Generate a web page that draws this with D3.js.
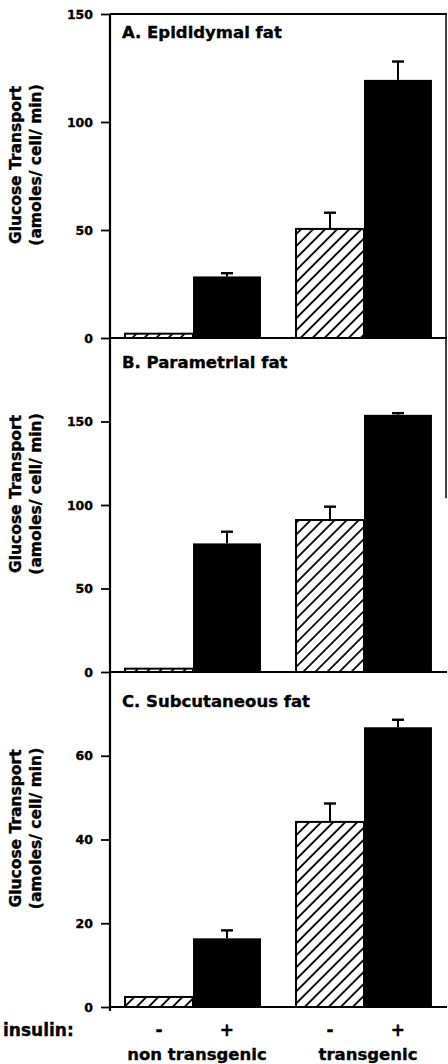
<!DOCTYPE html>
<html>
<head>
<meta charset="utf-8">
<script src="https://cdn.jsdelivr.net/npm/d3@7"></script>
<style>
  html, body { margin: 0; padding: 0; background: #fff; }
  svg { display: block; }
  text { font-family: "DejaVu Sans", sans-serif; font-weight: bold; fill: #000; stroke: #000; stroke-width: 0.35px; }
</style>
</head>
<body>
<svg id="chart" width="448" height="1064"></svg>
<script>
// ---- data ----
const groups = ["non transgenic", "transgenic"];
const insulin = ["-", "+"];
const panelTitles = ["A. Epididymal fat", "B. Parametrial fat", "C. Subcutaneous fat"];
const yMax = [150, 200, 80];
const yTicksA = [0, 50, 100, 150];
const yTicksB = [0, 50, 100, 150];
const yTicksC = [0, 20, 40, 60];
// order: non transgenic -, non transgenic +, transgenic -, transgenic +
const meanA = [2, 28.5, 50.5, 119.5];
const errA  = [0, 1.5, 7.5, 8.5];
const meanB = [2, 77, 91, 154];
const errB  = [0, 7, 8, 1];
const meanC = [2.4, 16.4, 44.2, 66.8];
const errC  = [0, 1.9, 4.4, 1.8];
const yLabel1 = "Glucose Transport";
const yLabel2 = "(amoles/ cell/ min)";
const xRowLabel = "insulin:";

const panels = [
  { title: panelTitles[0], max: yMax[0], ticks: yTicksA, mean: meanA, err: errA, top: 14,  bottom: 338,  titleDy: 24, frameTo: 150 },
  { title: panelTitles[1], max: yMax[1], ticks: yTicksB, mean: meanB, err: errB, top: 338, bottom: 672,  titleDy: 30, frameTo: 104 },
  { title: panelTitles[2], max: yMax[2], ticks: yTicksC, mean: meanC, err: errC, top: 672, bottom: 1007, titleDy: 35, frameTo: null }
];

const svg = d3.select("#chart");
const axisX = 110, rightX = 447;

// hatch pattern
const defs = svg.append("defs");
defs.append("pattern")
  .attr("id", "hatch").attr("patternUnits", "userSpaceOnUse")
  .attr("width", 8.5).attr("height", 8.5)
  .attr("patternTransform", "rotate(45)")
  .append("line").attr("x1", 1).attr("y1", 0).attr("x2", 1).attr("y2", 8.5)
  .attr("stroke", "#000").attr("stroke-width", 1.8);

const x0 = d3.scaleBand().domain(groups).range([axisX, rightX]).paddingInner(0.205).paddingOuter(0.088);
const x1 = d3.scaleBand().domain(insulin).range([0, x0.bandwidth()]).padding(0);

const rows = [];
groups.forEach((g, gi) => insulin.forEach((s, si) => rows.push({ g, s, i: gi * 2 + si })));

panels.forEach(p => {
  const y = d3.scaleLinear().domain([0, p.max]).range([p.bottom, p.top]);
  const gp = svg.append("g");

  // bars
  gp.selectAll("rect.bar").data(rows).join("rect")
    .attr("x", d => x0(d.g) + x1(d.s))
    .attr("width", x1.bandwidth())
    .attr("y", d => y(p.mean[d.i]))
    .attr("height", d => y(0) - y(p.mean[d.i]))
    .attr("fill", d => d.s === "-" ? "url(#hatch)" : "#000")
    .attr("stroke", "#000")
    .attr("stroke-width", d => d.s === "-" ? 2 : 0);

  // error bars (upper only)
  const eb = gp.selectAll("g.err").data(rows.filter(d => p.err[d.i] > 0)).join("g");
  eb.append("line")
    .attr("x1", d => x0(d.g) + x1(d.s) + x1.bandwidth() / 2)
    .attr("x2", d => x0(d.g) + x1(d.s) + x1.bandwidth() / 2)
    .attr("y1", d => y(p.mean[d.i]))
    .attr("y2", d => y(p.mean[d.i] + p.err[d.i]))
    .attr("stroke", "#000").attr("stroke-width", 2);
  eb.append("line")
    .attr("x1", d => x0(d.g) + x1(d.s) + x1.bandwidth() / 2 - 6)
    .attr("x2", d => x0(d.g) + x1(d.s) + x1.bandwidth() / 2 + 6)
    .attr("y1", d => y(p.mean[d.i] + p.err[d.i]))
    .attr("y2", d => y(p.mean[d.i] + p.err[d.i]))
    .attr("stroke", "#000").attr("stroke-width", 2.4);

  // y axis ticks
  const ax = gp.append("g").attr("transform", `translate(${axisX},0)`)
    .call(d3.axisLeft(y).tickValues(p.ticks).tickSize(9).tickSizeOuter(0).tickPadding(8).tickFormat(d3.format("d")));
  ax.select(".domain").remove();
  ax.selectAll(".tick line").attr("stroke-width", 1.8);
  ax.selectAll(".tick text").style("font-size", "12.5px").style("font-family", "DejaVu Sans").style("font-weight", "bold");

  // baseline
  gp.append("line").attr("x1", axisX).attr("x2", rightX).attr("y1", y(0)).attr("y2", y(0))
    .attr("stroke", "#000").attr("stroke-width", 2);

  // right frame
  if (p.frameTo !== null) {
    gp.append("line").attr("x1", rightX - 1).attr("x2", rightX - 1)
      .attr("y1", y(p.max)).attr("y2", y(p.frameTo === p.max ? 0 : p.frameTo))
      .attr("stroke", "#000").attr("stroke-width", 1.5);
  }

  // title
  gp.append("text").attr("x", axisX + 12).attr("y", p.top + p.titleDy)
    .style("font-size", "16.5px").text(p.title);

  // y label
  const cy = (p.top + p.bottom) / 2 - 11;
  const lab = gp.append("text").attr("transform", `translate(0,${cy}) rotate(-90)`)
    .attr("text-anchor", "middle").style("font-size", "15.5px");
  lab.append("tspan").attr("x", 0).attr("y", 21).text(yLabel1);
  lab.append("tspan").attr("x", 0).attr("y", 41).text(yLabel2);
});

// top frame of panel A
svg.append("line").attr("x1", axisX).attr("x2", rightX).attr("y1", panels[0].top).attr("y2", panels[0].top)
  .attr("stroke", "#000").attr("stroke-width", 2);
// main vertical axis line
svg.append("line").attr("x1", axisX).attr("x2", axisX).attr("y1", panels[0].top).attr("y2", panels[2].bottom + 4)
  .attr("stroke", "#000").attr("stroke-width", 2.2);

// insulin row
svg.append("text").attr("x", 3).attr("y", 1036).style("font-size", "17px").text(xRowLabel);
svg.selectAll("text.ins").data(rows).join("text")
  .attr("x", d => x0(d.g) + x1(d.s) + x1.bandwidth() / 2)
  .attr("y", 1036).attr("text-anchor", "middle").style("font-size", "17px")
  .text(d => d.s);
svg.selectAll("text.grp").data(groups).join("text")
  .attr("x", d => x0(d) + x0.bandwidth() / 2 + 4)
  .attr("y", 1060).attr("text-anchor", "middle").style("font-size", "16.5px")
  .text(d => d);
</script>
</body>
</html>
